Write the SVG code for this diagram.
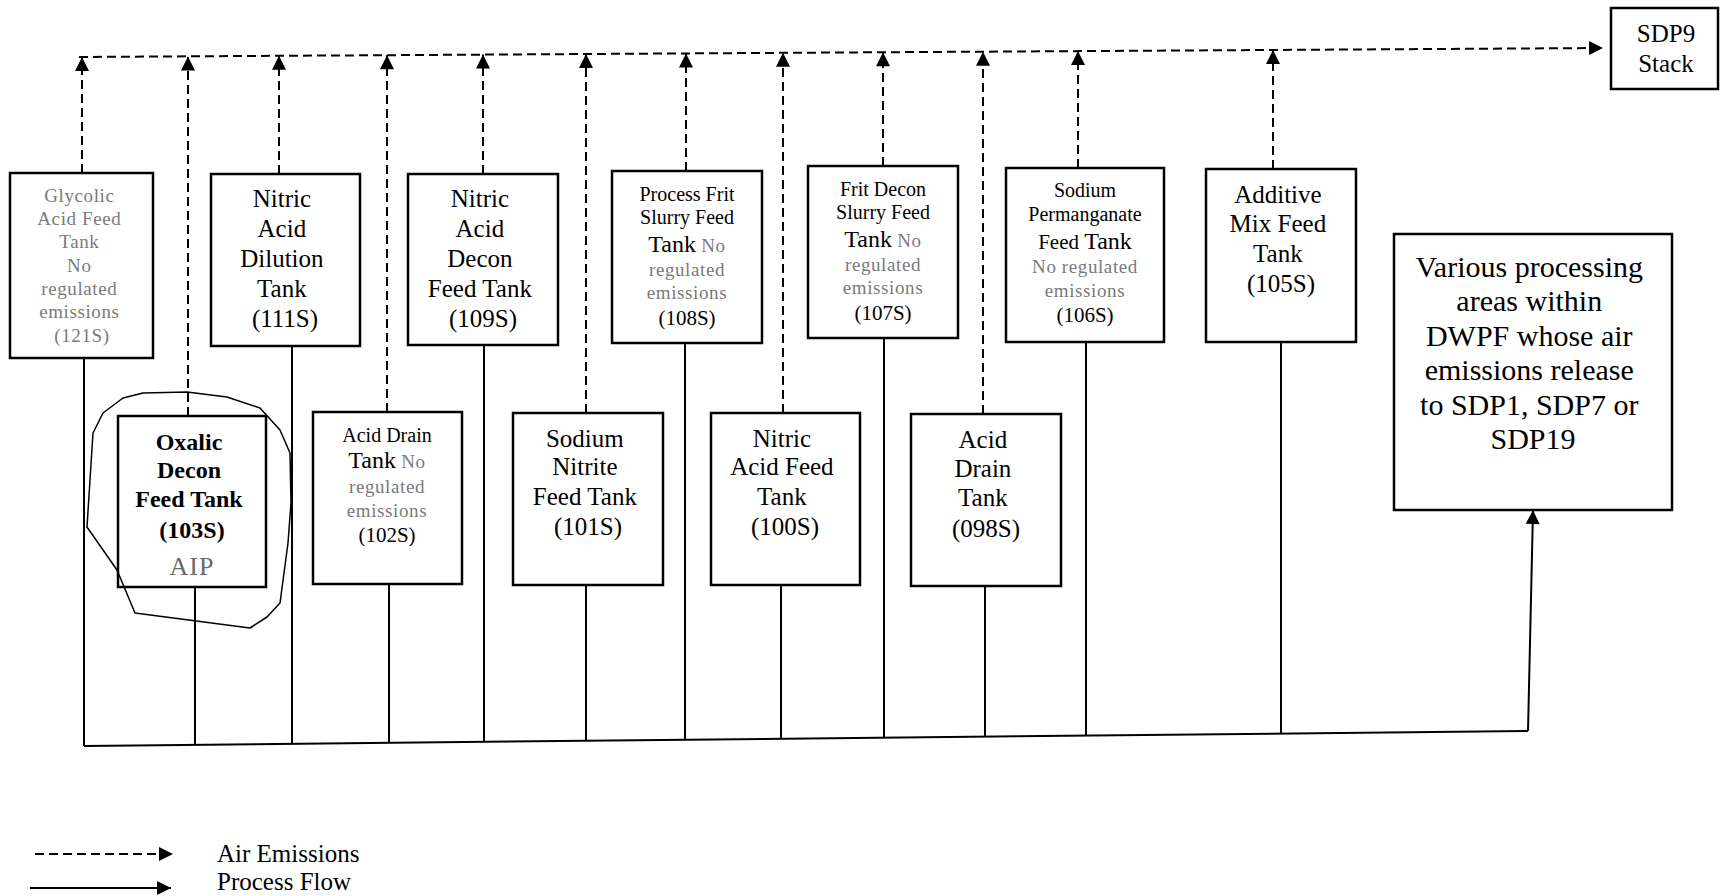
<svg xmlns="http://www.w3.org/2000/svg" width="1721" height="896" viewBox="0 0 1721 896">
<style>
.box{fill:#fff;stroke:#000;stroke-width:2.5}
.t{font-family:"Liberation Serif","Times New Roman",serif;fill:#000;text-anchor:middle}
.s25{font-size:25px}
.s20{font-size:20px}
.s24{font-size:24px}
.s30{font-size:30px}
.g{fill:#7a7a7a;font-size:19px;letter-spacing:0.6px}
.b{font-weight:bold;font-size:24px}
.air{stroke:#000;stroke-width:2;stroke-dasharray:9 5;fill:none}
.proc{stroke:#000;stroke-width:2;fill:none}
.lg{font-family:"Liberation Serif","Times New Roman",serif;font-size:25px;fill:#000}
</style>
<defs>
<marker id="ah" viewBox="0 0 10 10" refX="10" refY="5" markerWidth="15" markerHeight="14" markerUnits="userSpaceOnUse" orient="auto">
<path d="M0,0 L10,5 L0,10 z" fill="#000"/>
</marker>
</defs>
<rect width="1721" height="896" fill="#fff"/>

<g id="connectors">
<!-- top air emission header -->
<line class="air" x1="79" y1="57" x2="1603" y2="48" marker-end="url(#ah)"/>
<!-- dashed verticals -->
<line class="air" x1="82" y1="173" x2="82" y2="57" marker-end="url(#ah)"/>
<line class="air" x1="188" y1="416" x2="188" y2="56.4" marker-end="url(#ah)"/>
<line class="air" x1="279" y1="174" x2="279" y2="55.8" marker-end="url(#ah)"/>
<line class="air" x1="387" y1="412" x2="387" y2="55.2" marker-end="url(#ah)"/>
<line class="air" x1="483" y1="174" x2="483" y2="54.6" marker-end="url(#ah)"/>
<line class="air" x1="586" y1="413" x2="586" y2="54" marker-end="url(#ah)"/>
<line class="air" x1="686" y1="171" x2="686" y2="53.4" marker-end="url(#ah)"/>
<line class="air" x1="783" y1="413" x2="783" y2="52.8" marker-end="url(#ah)"/>
<line class="air" x1="883" y1="166" x2="883" y2="52.3" marker-end="url(#ah)"/>
<line class="air" x1="983" y1="414" x2="983" y2="51.7" marker-end="url(#ah)"/>
<line class="air" x1="1078" y1="168" x2="1078" y2="51.1" marker-end="url(#ah)"/>
<line class="air" x1="1273" y1="169" x2="1273" y2="50" marker-end="url(#ah)"/>
<!-- process flow verticals -->
<line class="proc" x1="84" y1="358" x2="84" y2="746"/>
<line class="proc" x1="195" y1="587" x2="195" y2="745"/>
<line class="proc" x1="292" y1="346" x2="292" y2="744"/>
<line class="proc" x1="389" y1="584" x2="389" y2="743"/>
<line class="proc" x1="484" y1="345" x2="484" y2="742"/>
<line class="proc" x1="586" y1="585" x2="586" y2="741"/>
<line class="proc" x1="685" y1="343" x2="685" y2="740"/>
<line class="proc" x1="781" y1="585" x2="781" y2="739"/>
<line class="proc" x1="884" y1="338" x2="884" y2="738"/>
<line class="proc" x1="985" y1="586" x2="985" y2="737"/>
<line class="proc" x1="1086" y1="342" x2="1086" y2="736"/>
<line class="proc" x1="1281" y1="342" x2="1281" y2="734"/>
<!-- bottom collector -->
<line class="proc" x1="84" y1="746" x2="1528" y2="731"/>
<line class="proc" x1="1528" y1="731" x2="1533" y2="510" marker-end="url(#ah)"/>
</g>

<g id="n121S">
<rect class="box" x="10" y="173" width="143" height="185"/>
<text class="t g" font-size="20">
<tspan x="82" y="202">Glycolic</tspan>
<tspan x="82" y="225">Acid Feed</tspan>
<tspan x="82" y="248">Tank</tspan>
<tspan x="82" y="272">No</tspan>
<tspan x="82" y="295">regulated</tspan>
<tspan x="82" y="318">emissions</tspan>
<tspan x="82" y="342">(121S)</tspan>
</text>
</g>

<g id="n111S">
<rect class="box" x="211" y="174" width="149" height="172"/>
<text class="t s25">
<tspan x="285" y="207">Nitric</tspan>
<tspan x="285" y="237">Acid</tspan>
<tspan x="285" y="267">Dilution</tspan>
<tspan x="285" y="297">Tank</tspan>
<tspan x="285" y="327">(111S)</tspan>
</text>
</g>

<g id="n109S">
<rect class="box" x="408" y="174" width="150" height="171"/>
<text class="t s25">
<tspan x="483" y="207">Nitric</tspan>
<tspan x="483" y="237">Acid</tspan>
<tspan x="483" y="267">Decon</tspan>
<tspan x="483" y="297">Feed Tank</tspan>
<tspan x="483" y="327">(109S)</tspan>
</text>
</g>

<g id="n108S">
<rect class="box" x="612" y="171" width="150" height="172"/>
<text class="t s20"><tspan x="687" y="201">Process Frit</tspan><tspan x="687" y="224">Slurry Feed</tspan></text>
<text class="t" x="687" y="252"><tspan class="s24">Tank</tspan><tspan class="g"> No</tspan></text>
<text class="t g"><tspan x="687" y="276">regulated</tspan><tspan x="687" y="299">emissions</tspan></text>
<text class="t" x="687" y="325" font-size="21">(108S)</text>
</g>

<g id="n107S">
<rect class="box" x="808" y="166" width="150" height="172"/>
<text class="t s20"><tspan x="883" y="196">Frit Decon</tspan><tspan x="883" y="219">Slurry Feed</tspan></text>
<text class="t" x="883" y="247"><tspan class="s24">Tank</tspan><tspan class="g"> No</tspan></text>
<text class="t g"><tspan x="883" y="271">regulated</tspan><tspan x="883" y="294">emissions</tspan></text>
<text class="t" x="883" y="320" font-size="21">(107S)</text>
</g>

<g id="n106S">
<rect class="box" x="1006" y="168" width="158" height="174"/>
<text class="t s20"><tspan x="1085" y="197">Sodium</tspan><tspan x="1085" y="221">Permanganate</tspan></text>
<text class="t" x="1085" y="249"><tspan font-size="21">Feed </tspan><tspan class="s24">Tank</tspan></text>
<text class="t g"><tspan x="1085" y="273">No regulated</tspan><tspan x="1085" y="297">emissions</tspan></text>
<text class="t" x="1085" y="322" font-size="21">(106S)</text>
</g>

<g id="n105S">
<rect class="box" x="1206" y="169" width="150" height="173"/>
<text class="t s25">
<tspan x="1281" y="203">Additive</tspan>
<tspan x="1281" y="232">Mix Feed</tspan>
<tspan x="1281" y="262">Tank</tspan>
<tspan x="1281" y="292">(105S)</tspan>
</text>
</g>

<g id="SDP9">
<rect class="box" x="1611" y="8" width="107" height="81"/>
<text class="t s25"><tspan x="1666" y="42">SDP9</tspan><tspan x="1666" y="72">Stack</tspan></text>
</g>

<g id="various">
<rect class="box" x="1394" y="234" width="278" height="276"/>
<text class="t s30">
<tspan x="1533" y="277">Various processing</tspan>
<tspan x="1533" y="311">areas within</tspan>
<tspan x="1533" y="346">DWPF whose air</tspan>
<tspan x="1533" y="380">emissions release</tspan>
<tspan x="1533" y="415">to SDP1, SDP7 or</tspan>
<tspan x="1533" y="449">SDP19</tspan>
</text>
</g>

<g id="n103S">
<rect class="box" x="118" y="416" width="148" height="171"/>
<text class="t b">
<tspan x="192" y="450">Oxalic</tspan>
<tspan x="192" y="478">Decon</tspan>
<tspan x="192" y="507">Feed Tank</tspan>
<tspan x="192" y="538">(103S)</tspan>
</text>
<text class="t" x="192" y="575" font-size="26" fill="#7a7a7a" style="fill:#6a6a6a;letter-spacing:1px">AIP</text>
<path d="M87,527 L93,433 L103,413 L123,398 L143,393 L187,392 L227,397 L260,408 L280,430 L290,453 L291,503 L288,543 L280,603 L267,617 L250,628 L135,613 L117,570 Z" fill="none" stroke="#000" stroke-width="1.5" stroke-linejoin="round"/>
</g>

<g id="n102S">
<rect class="box" x="313" y="412" width="149" height="172"/>
<text class="t s20" x="387" y="442">Acid Drain</text>
<text class="t" x="387" y="468"><tspan class="s24">Tank</tspan><tspan class="g">  No</tspan></text>
<text class="t g"><tspan x="387" y="493">regulated</tspan><tspan x="387" y="517">emissions</tspan></text>
<text class="t" x="387" y="542" font-size="21">(102S)</text>
</g>

<g id="n101S">
<rect class="box" x="513" y="413" width="150" height="172"/>
<text class="t s25">
<tspan x="588" y="447">Sodium</tspan>
<tspan x="588" y="475">Nitrite</tspan>
<tspan x="588" y="505">Feed Tank</tspan>
<tspan x="588" y="535">(101S)</tspan>
</text>
</g>

<g id="n100S">
<rect class="box" x="711" y="413" width="149" height="172"/>
<text class="t s25">
<tspan x="785" y="447">Nitric</tspan>
<tspan x="785" y="475">Acid Feed</tspan>
<tspan x="785" y="505">Tank</tspan>
<tspan x="785" y="535">(100S)</tspan>
</text>
</g>

<g id="n098S">
<rect class="box" x="911" y="414" width="150" height="172"/>
<text class="t s25">
<tspan x="986" y="448">Acid</tspan>
<tspan x="986" y="477">Drain</tspan>
<tspan x="986" y="506">Tank</tspan>
<tspan x="986" y="537">(098S)</tspan>
</text>
</g>

<g id="legend">
<line class="air" x1="35" y1="854" x2="173" y2="854" marker-end="url(#ah)"/>
<line class="proc" x1="30" y1="888" x2="171" y2="888" marker-end="url(#ah)"/>
<text class="lg" x="217" y="862">Air Emissions</text>
<text class="lg" x="217" y="890">Process Flow</text>
</g>
</svg>
